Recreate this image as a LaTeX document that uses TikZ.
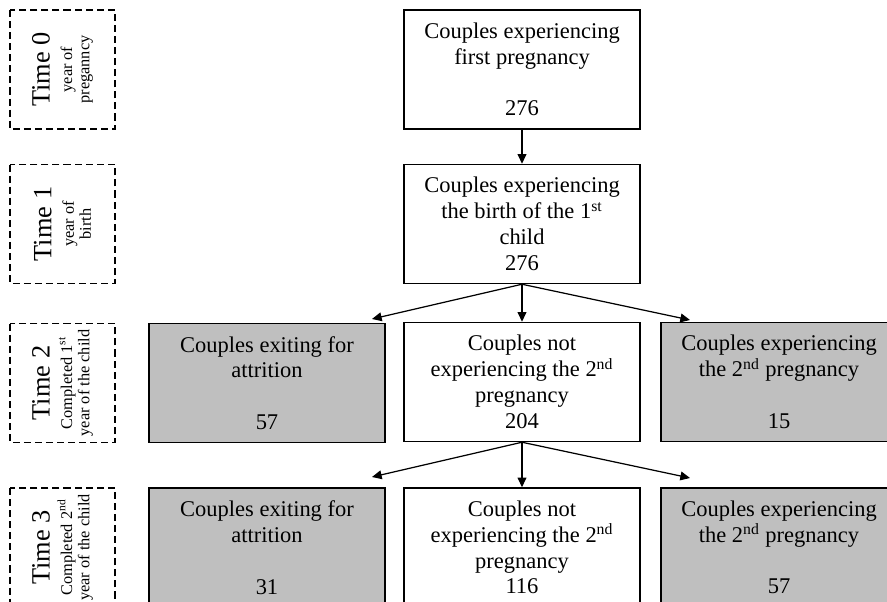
\documentclass[tikz,border=0pt]{standalone}
\usepackage{fontspec}
\setmainfont{Liberation Serif}
\usetikzlibrary{arrows.meta}

\tikzset{
  flowbox/.style={draw, line width=0.85pt, minimum width=4.72cm, minimum height=2.38cm,
    inner sep=0pt, align=center, font=\fontsize{12.8}{14.7}\selectfont},
  greybox/.style={flowbox, fill=black!25},
  timebox/.style={draw, line width=1.1pt, dash pattern=on 4pt off 2.3pt, rotate=90,
    minimum width=2.38cm, minimum height=2.1cm, inner sep=0pt, align=center,
    font=\fontsize{9.3}{9.8}\selectfont},
  flow/.style={line width=0.7pt, -{Triangle[length=5.5pt,width=5pt]}}
}
\newcommand{\timelabel}[1]{{\fontsize{15}{12}\selectfont Time #1}\\[3pt]}

\begin{document}
\begin{tikzpicture}[x=0.02cm, y=-0.02cm]
  \useasboundingbox (0,0) rectangle (887,602);
  \clip (0,0) rectangle (887,602);

  % time line on the left
  \node[timebox] (time0) at (62.5,69.5) {\timelabel{0}year of\\preganncy};
  \node[timebox] (time1) at (62.5,224) {\timelabel{1}year of\\birth};
  \node[timebox] (time2) at (62.5,383) {\timelabel{2}Completed 1\textsuperscript{st}\\year of the child};
  \node[timebox] (time3) at (62.5,547.5) {\timelabel{3}Completed 2\textsuperscript{nd}\\year of the child};

  % couples
  \node[flowbox] (preg) at (522,69.5) {Couples experiencing\\first pregnancy\\ \\276};
  \node[flowbox] (birth) at (522,224) {Couples experiencing\\the birth of the 1\textsuperscript{st}\\child\\276};

  \node[greybox] (exit2) at (267,383) {Couples exiting for\\attrition\\ \\57};
  \node[flowbox] (stay2) at (522,382) {Couples not\\experiencing the 2\textsuperscript{nd}\\pregnancy\\204};
  \node[greybox] (preg2) at (779,382) {Couples experiencing\\the 2\textsuperscript{nd} pregnancy\\ \\15};

  \node[greybox] (exit3) at (267,547.5) {Couples exiting for\\attrition\\ \\31};
  \node[flowbox] (stay3) at (522,547.5) {Couples not\\experiencing the 2\textsuperscript{nd}\\pregnancy\\116};
  \node[greybox] (preg3) at (779,547.5) {Couples experiencing\\the 2\textsuperscript{nd} pregnancy\\ \\57};

  \coordinate (exit2in) at (372,319);
  \coordinate (preg2in) at (690,320);
  \coordinate (exit3in) at (372,477);
  \coordinate (preg3in) at (690,478);

  \draw[flow] (preg) -- (birth);
  \draw[flow] (birth.south) -- (exit2in);
  \draw[flow] (birth) -- (stay2);
  \draw[flow] (birth.south) -- (preg2in);
  \draw[flow] (stay2.south) -- (exit3in);
  \draw[flow] (stay2) -- (stay3);
  \draw[flow] (stay2.south) -- (preg3in);
\end{tikzpicture}
\end{document}
